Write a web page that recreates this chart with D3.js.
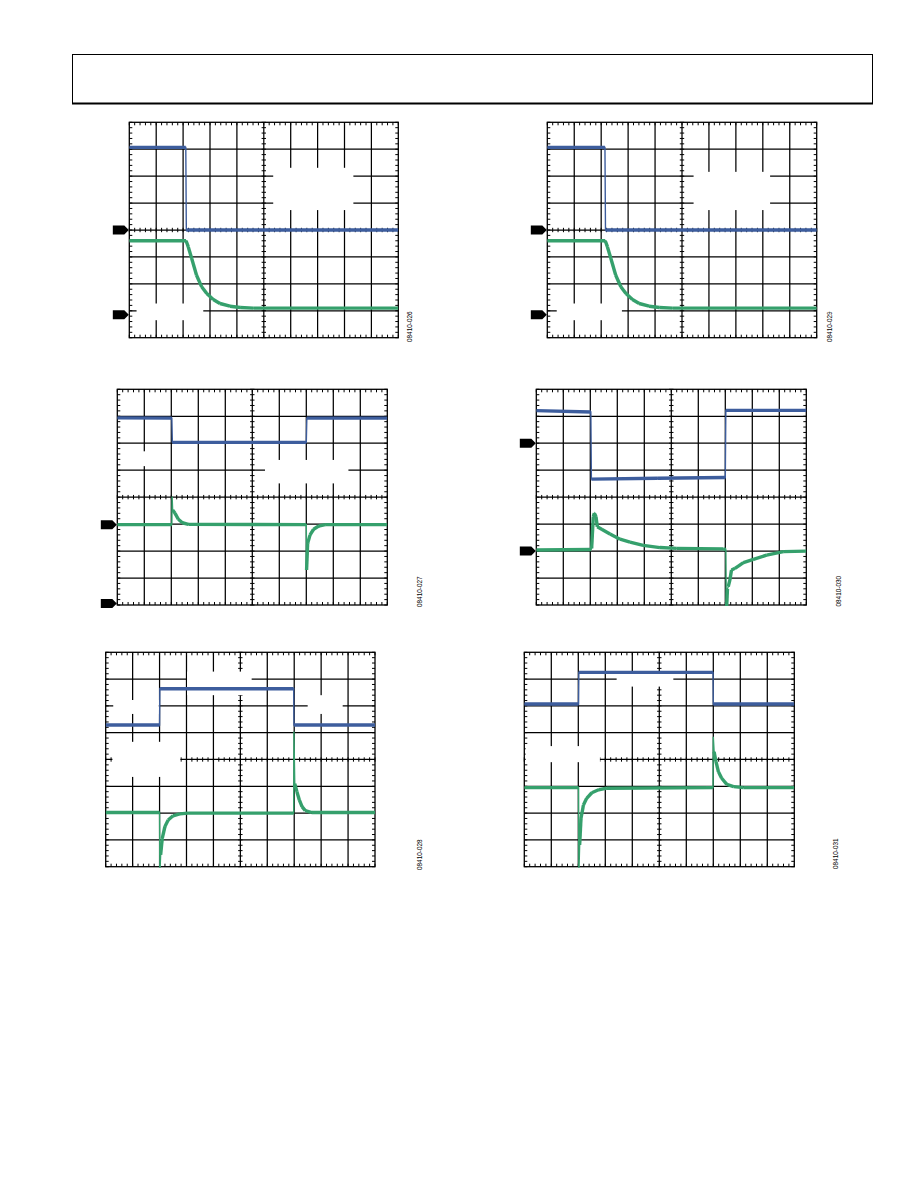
<!DOCTYPE html>
<html><head><meta charset="utf-8">
<script src="https://cdn.jsdelivr.net/npm/d3@7"></script>
<style>html,body{margin:0;padding:0;background:#fff}svg{display:block}</style>
</head><body>
<svg id="page" width="918" height="1188"></svg>
<script>
// ---------- DATA (time in divisions 0..10, level in divisions above screen centre) ----------
const figureIds = ["08410-026", "08410-029", "08410-027", "08410-030", "08410-028", "08410-031"];

const blue1 = [[0,3.07],[2.10,3.07],[2.12,0.0],[10,0.0]];
const green1 = [[0,-0.40],[2.11,-0.40],[2.19,-0.62],[2.32,-1.06],[2.50,-1.68],[2.69,-2.11],[2.88,-2.36],[3.12,-2.58],[3.37,-2.73],[3.74,-2.83],[4.12,-2.88],[4.61,-2.90],[10,-2.90]];

const blue2 = [[0,3.07],[2.14,3.07],[2.16,0.0],[10,0.0]];
const green2 = [[0,-0.40],[2.15,-0.40],[2.23,-0.62],[2.36,-1.06],[2.54,-1.68],[2.73,-2.11],[2.92,-2.36],[3.16,-2.58],[3.41,-2.73],[3.78,-2.83],[4.16,-2.88],[4.65,-2.90],[10,-2.90]];

const blue3 = [[0,2.94],[2.02,2.93],[2.04,2.03],[7.00,2.03],[7.02,2.93],[10,2.93]];
const green3 = [[0,-1.02],[2.02,-1.02],[2.03,0.02],[2.05,-0.48],[2.14,-0.60],[2.26,-0.82],[2.41,-0.95],[2.63,-1.01],[7.00,-1.02],[7.01,-2.70],[7.05,-1.71],[7.14,-1.40],[7.27,-1.19],[7.46,-1.07],[7.70,-1.02],[10,-1.02]];

const blue4 = [[0,3.21],[2.02,3.16],[2.04,0.67],[4.50,0.70],[7.00,0.73],[7.02,3.22],[10,3.22]];
const green4 = [[0,-1.96],[2.03,-1.94],[2.05,-1.90],[2.11,-0.72],[2.15,-0.60],[2.21,-0.72],[2.26,-1.10],[2.42,-1.19],[2.73,-1.37],[3.10,-1.56],[3.47,-1.67],[3.96,-1.79],[4.58,-1.87],[5.20,-1.90],[6.93,-1.92],[7.02,-1.95],[7.04,-4.30],[7.08,-3.40],[7.11,-3.32],[7.17,-3.07],[7.23,-2.70],[7.36,-2.64],[7.67,-2.43],[8.04,-2.31],[8.53,-2.15],[9.15,-2.02],[10,-2.00]];

const blue5 = [[0,1.29],[2.00,1.29],[2.01,2.64],[6.98,2.64],[6.99,1.29],[10,1.29]];
const green5 = [[0,-1.98],[2.00,-1.98],[2.01,-4.30],[2.04,-3.56],[2.10,-2.94],[2.20,-2.50],[2.32,-2.26],[2.50,-2.10],[2.75,-2.03],[3.06,-2.00],[6.98,-2.00],[6.99,1.04],[7.02,-0.90],[7.10,-1.20],[7.19,-1.51],[7.29,-1.76],[7.41,-1.91],[7.66,-1.98],[10,-1.98]];

const blue6 = [[0,2.07],[2.01,2.07],[2.02,3.25],[6.99,3.25],[7.00,2.07],[10,2.07]];
const green6 = [[0,-1.05],[2.01,-1.05],[2.02,-4.30],[2.05,-3.19],[2.10,-2.19],[2.19,-1.70],[2.31,-1.45],[2.50,-1.24],[2.75,-1.13],[3.06,-1.07],[6.99,-1.05],[7.00,0.85],[7.03,0.29],[7.10,-0.08],[7.19,-0.46],[7.31,-0.70],[7.50,-0.93],[7.75,-1.01],[8.12,-1.05],[10,-1.05]];

// ground reference markers (levels)
const markers1 = [0, -3.15];
const markers2 = [0, -3.15];
const markers3 = [-1.02, -3.94];
const markers4 = [2.0, -2.0];
const markers5 = [];
const markers6 = [];

// ---------- LAYOUT ----------
const BLUE = "#3d5d9d", GREEN = "#35a06c";
// masks: [x0,x1,yTop,yBottom] in divisions from left / from top (label boxes that blank the graticule)
const plots = [
  {x:129.3, y:122.3, w:269.0, h:215.4, blue:blue1, green:green1, markers:markers1, id:figureIds[0], lx:411.5, ly:342,
   masks:[[5.35,8.33,1.69,3.26],[0.27,2.75,6.73,7.35]]},
  {x:547.3, y:122.3, w:269.4, h:215.4, blue:blue2, green:green2, markers:markers2, id:figureIds[1], lx:831.5, ly:342,
   masks:[[5.43,8.27,1.84,3.26],[0.35,2.77,6.73,7.35]]},
  {x:117.3, y:389.3, w:270.0, h:215.7, blue:blue3, green:green3, markers:markers3, id:figureIds[2], lx:421.5, ly:607,
   masks:[[5.47,8.56,2.62,3.49],[0.3,1.8,2.3,2.85]]},
  {x:536.3, y:389.3, w:270.0, h:215.7, blue:blue4, green:green4, markers:markers4, id:figureIds[3], lx:840.5, ly:606.5,
   masks:[]},
  {x:105.7, y:652.3, w:269.3, h:214.4, blue:blue5, green:green5, markers:markers5, id:figureIds[4], lx:421.5, ly:870,
   masks:[[3.02,5.42,0.72,1.6],[0.28,1.97,1.78,2.30],[0.25,2.77,3.34,4.65],[7.5,8.8,1.6,2.3]]},
  {x:524.3, y:652.3, w:270.0, h:214.4, blue:blue6, green:green6, markers:markers6, id:figureIds[5], lx:838, ly:869,
   masks:[[3.42,5.52,0.74,1.28],[0.05,2.8,3.5,4.1]]}
];

const svg = d3.select("#page");

// header box
svg.append("rect").attr("x",72.5).attr("y",54.5).attr("width",800).attr("height",49)
  .attr("fill","none").attr("stroke","#000").attr("stroke-width",1);
svg.append("line").attr("x1",72).attr("x2",873).attr("y1",103.5).attr("y2",103.5)
  .attr("stroke","#000").attr("stroke-width",2.2);

plots.forEach((p, pi) => {
  const x = d3.scaleLinear().domain([0,10]).range([0,p.w]);
  const y = d3.scaleLinear().domain([4,-4]).range([0,p.h]);
  const yd = d3.scaleLinear().domain([0,8]).range([0,p.h]); // divisions from top
  const g = svg.append("g").attr("transform",`translate(${p.x},${p.y})`);

  // graticule
  const grid = g.append("g").attr("stroke","#000").attr("stroke-width",1.25);
  d3.range(1,10).forEach(i => grid.append("line").attr("x1",x(i)).attr("x2",x(i)).attr("y1",0).attr("y2",p.h));
  d3.range(1,8).forEach(j => grid.append("line").attr("y1",yd(j)).attr("y2",yd(j)).attr("x1",0).attr("x2",p.w));
  // minor ticks
  const tk = g.append("g").attr("stroke","#000").attr("stroke-width",1);
  d3.range(0,10.001,0.2).forEach(t => {
    const xx = x(t);
    tk.append("line").attr("x1",xx).attr("x2",xx).attr("y1",0).attr("y2",3);
    tk.append("line").attr("x1",xx).attr("x2",xx).attr("y1",p.h-3).attr("y2",p.h);
    tk.append("line").attr("x1",xx).attr("x2",xx).attr("y1",y(0)-2.2).attr("y2",y(0)+2.2);
  });
  d3.range(0,8.001,0.2).forEach(t => {
    const yy = yd(t);
    tk.append("line").attr("y1",yy).attr("y2",yy).attr("x1",0).attr("x2",3);
    tk.append("line").attr("y1",yy).attr("y2",yy).attr("x1",p.w-3).attr("x2",p.w);
    tk.append("line").attr("y1",yy).attr("y2",yy).attr("x1",x(5)-2.2).attr("x2",x(5)+2.2);
  });
  // label masks
  p.masks.forEach(m => g.append("rect").attr("x",x(m[0])).attr("y",yd(m[2]))
    .attr("width",x(m[1])-x(m[0])).attr("height",yd(m[3])-yd(m[2])).attr("fill","#fff"));

  // frame
  g.append("rect").attr("x",0).attr("y",0).attr("width",p.w).attr("height",p.h)
    .attr("fill","none").attr("stroke","#000").attr("stroke-width",1.3);

  // traces
  const cid = "clip"+pi;
  g.append("clipPath").attr("id",cid).append("rect").attr("x",0).attr("y",0).attr("width",p.w).attr("height",p.h+1);
  const tr = g.append("g").attr("clip-path",`url(#${cid})`);
  const line = d3.line().x(d => x(d[0])).y(d => y(d[1]));
  [[p.green,GREEN],[p.blue,BLUE]].forEach(([data,col]) => {
    tr.append("path").attr("d",line(data)).attr("fill","none").attr("stroke",col).attr("stroke-width",1.4);
    // the noisy band on the slow parts of the trace
    const segs = d3.pairs(data).filter(([a,b]) => b[0]-a[0] > 0.035);
    segs.forEach(s => tr.append("path").attr("d",line(s)).attr("fill","none").attr("stroke",col)
      .attr("stroke-width",3.4).attr("stroke-linecap","butt"));
  });

  // ground markers
  p.markers.forEach(v => {
    const yy = y(v);
    g.append("path").attr("d",`M${-16.5},${yy-4.5}H${-5}L${-0.5},${yy}L${-5},${yy+4.5}H${-16.5}Z`).attr("fill","#000");
  });

  // figure id
  svg.append("text").attr("transform",`translate(${p.lx},${p.ly}) rotate(-90)`)
    .attr("font-family","Liberation Sans, Arial, sans-serif").attr("font-size",6.4)
    .attr("fill","#000").text(p.id);
});
</script>
</body></html>
